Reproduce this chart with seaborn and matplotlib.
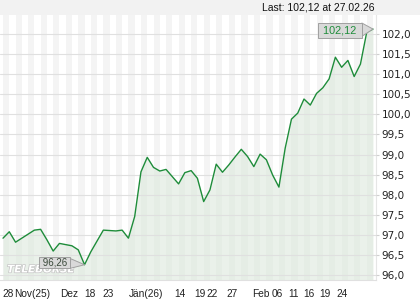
import matplotlib
matplotlib.use("Agg")
import matplotlib.pyplot as plt
import seaborn as sns
import pandas as pd
import numpy as np
from matplotlib import patheffects as pe
from matplotlib.patches import Rectangle
from matplotlib.ticker import FuncFormatter, FixedLocator

# ---- data ----
values = [96.92, 97.08, 96.82, 96.92, 97.02, 97.12, 97.14, 96.88, 96.60, 96.79,
          96.76, 96.73, 96.63, 96.26, 96.58, 96.85, 97.12, 97.11, 97.10, 97.12,
          96.92, 97.46, 98.57, 98.93, 98.68, 98.59, 98.63, 98.45, 98.27, 98.55,
          98.60, 98.41, 97.83, 98.12, 98.76, 98.56, 98.74, 98.94, 99.13, 98.95,
          98.70, 99.01, 98.87, 98.49, 98.19, 99.16, 99.88, 100.03, 100.38, 100.23,
          100.52, 100.66, 100.88, 101.42, 101.17, 101.34, 100.94, 101.25, 102.04, 102.12]
tick_labels = ["28", "Nov(25)", "Dez", "18", "23", "Jän(26)", "14", "19", "22",
               "27", "Feb", "06", "11", "16", "19", "24"]
tick_pos = [0.75, 4.63, 10.6, 13.9, 16.8, 22.8, 28.15, 31.4, 33.3,
            36.5, 41.1, 43.7, 46.3, 48.75, 51.3, 54.0]
y_ticks = [96.0, 96.5, 97.0, 97.5, 98.0, 98.5, 99.0, 99.5, 100.0, 100.5, 101.0, 101.5, 102.0]
last_date = "27.02.26"
watermark = "TELEBÖRSE"

def fmt(v, d=2):
    return f"{v:.{d}f}".replace(".", ",")

sns.set_style("white")
plt.rcParams["font.family"] = ["Liberation Sans", "DejaVu Sans"]

df = pd.DataFrame({"idx": np.arange(len(values)), "value": values})

fig = plt.figure(figsize=(4.2, 3.0), dpi=100)
fig.patch.set_facecolor("white")
fig.add_artist(Rectangle((0, 285 / 300), 1, 15 / 300, transform=fig.transFigure,
                         facecolor="#f2f2f2", edgecolor="none", zorder=0))
ax = fig.add_axes([0, 20 / 300, 376 / 420, 265 / 300])
ax.set_facecolor("white")

ymin, ymax = 95.88, 102.47
# alternating background stripes, one per data point
for i in range(0, len(values), 2):
    ax.axvspan(i, i + 1, color="#f4f4f4", lw=0, zorder=0)

ax.fill_between(df["idx"], df["value"], ymin, color="#dce9dc", alpha=0.6, lw=0, zorder=1)
sns.lineplot(data=df, x="idx", y="value", color="#1e8c3a", linewidth=1.0, ax=ax, zorder=3)

ax.set_xlim(-0.48, len(values) - 1 + 0.48)
ax.set_ylim(ymin, ymax)
ax.set_xlabel("")
ax.set_ylabel("")

# y axis on the right
ax.yaxis.tick_right()
ax.set_yticks(y_ticks)
ax.yaxis.set_major_formatter(FuncFormatter(lambda v, p: fmt(v, 1)))
ax.yaxis.grid(True, color="#e0e0e0", lw=0.8, zorder=0.5)
ax.set_axisbelow(False)
ax.tick_params(axis="y", length=2.5, color="#d0d0d0", pad=1.5, labelsize=7.5, labelcolor="#222222")
for lab in ax.get_yticklabels():
    lab.set_fontfamily("DejaVu Sans")

# x axis
ax.set_xticks(tick_pos)
ax.set_xticklabels(tick_labels)
ax.xaxis.set_minor_locator(FixedLocator(df["idx"].tolist()))
ax.tick_params(axis="x", which="major", length=0, pad=12, labelsize=7.3, labelcolor="#222222")
ax.tick_params(axis="x", which="minor", length=3, color="#cccccc")
for lab in ax.get_xticklabels():
    lab.set_verticalalignment("baseline")

for s in ["left", "top"]:
    ax.spines[s].set_visible(False)
ax.spines["bottom"].set_color("#e0e0e0")
ax.spines["bottom"].set_linewidth(0.8)
ax.spines["right"].set_color("#e6e6e6")
ax.spines["right"].set_linewidth(0.8)

# watermark
ax.text(0.019, 0.04, watermark, transform=ax.transAxes, fontsize=7.5, fontweight="bold",
        fontstyle="italic", family="DejaVu Sans", color="white", ha="left", va="center",
        zorder=2, path_effects=[pe.withStroke(linewidth=1.0, foreground="#c4c4c4")])

# min annotation
imin = int(np.argmin(values))
ax.annotate(" " + fmt(values[imin]) + " ", xy=(imin, values[imin]),
            xytext=(-30 * 0.72, 2.4 * 0.72), textcoords="offset points",
            ha="center", va="center", fontsize=7, color="#3b4a3b", zorder=6,
            bbox=dict(boxstyle="square,pad=0.05", fc="#d9d9d9", ec="#a0a0a0", lw=0.7),
            arrowprops=dict(arrowstyle="wedge,tail_width=1.0,shrink_factor=0.5",
                            fc="#d9d9d9", ec="#a0a0a0", lw=0.7, shrinkA=0, shrinkB=0))

# last value annotation
imax = len(values) - 1
ax.annotate(" " + fmt(values[imax]) + " ", xy=(imax, values[imax]),
            xytext=(-33 * 0.72, -1.3 * 0.72), textcoords="offset points",
            ha="center", va="center", fontsize=7.8, color="#1e8c3a", zorder=6,
            bbox=dict(boxstyle="square,pad=0.2", fc="#d9d9d9", ec="#a0a0a0", lw=0.7),
            arrowprops=dict(arrowstyle="wedge,tail_width=1.2,shrink_factor=0.5",
                            fc="#d9d9d9", ec="#a0a0a0", lw=0.7, shrinkA=0, shrinkB=0))

fig.text(374 / 420, 1 - 7.5 / 300, f"Last: {fmt(values[-1])} at {last_date}",
         ha="right", va="center", fontsize=7.5, color="#111111")

fig.savefig("out.png", dpi=100)
